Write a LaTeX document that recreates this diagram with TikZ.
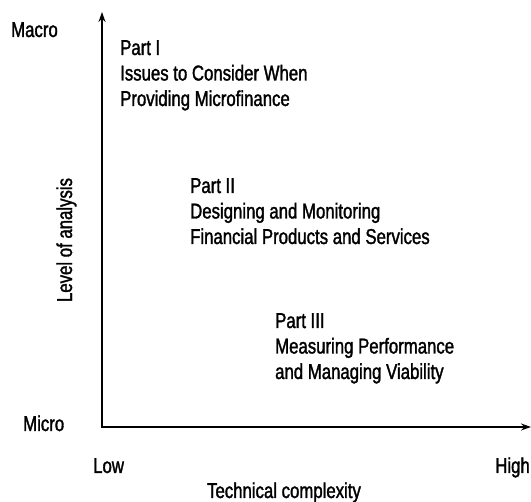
\documentclass[tikz,border=0pt]{standalone}
\usepackage{fontspec}
\setmainfont{Liberation Sans}[FakeStretch=0.78,FakeBold=1.5]
\usetikzlibrary{arrows.meta}
\begin{document}
\begin{tikzpicture}[x=1pt,y=-1pt,
  lbl/.style={inner sep=0pt, font=\fontsize{21.5}{25.5}\selectfont},
  part/.style={lbl, align=left, anchor=north west},
  axis/.style={line width=1.4pt, {Stealth[length=10pt,width=7pt]}-{Stealth[length=10pt,width=7pt]}}]
\useasboundingbox (0,0) rectangle (531,502);
\coordinate (O) at (102,427);
\coordinate (ytop) at (102,12);
\coordinate (xend) at (531,427);
\draw[axis] (ytop) -- (O) -- (xend);
\node[lbl, anchor=base west] (macro) at (11,37) {Macro};
\node[lbl, anchor=base west] (micro) at (23,431) {Micro};
\node[lbl, anchor=base west] (low) at (93,473) {Low};
\node[lbl, anchor=base east] (high) at (530,473) {High};
\node[lbl, anchor=base] (tech) at (284,498) {Technical complexity};
\node[lbl, anchor=base, rotate=90] (level) at (72,240) {Level of analysis};
\node[part] (p1) at (120,40) {Part I\\Issues to Consider When\\Providing Microfinance};
\node[part] (p2) at (190,178) {Part II\\Designing and Monitoring\\Financial Products and Services};
\node[part] (p3) at (275,313) {Part III\\Measuring Performance\\and Managing Viability};
\end{tikzpicture}
\end{document}
